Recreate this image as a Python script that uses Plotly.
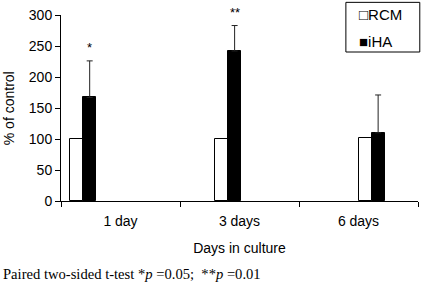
import plotly.graph_objects as go

categories = ["1 day", "3 days", "6 days"]
rcm = [100, 100, 101]
iha = [167, 242, 110]
iha_err = [59, 41, 61]
sig_labels = ["*", "**", ""]
y_ticks = [0, 50, 100, 150, 200, 250, 300]
legend_labels = ["\u25a1RCM", "\u25a0iHA"]

FONT = "Liberation Sans, Arial, sans-serif"
bar_w = 0.11
rcm_off = [-0.424, -0.206, 0.0]
iha_off = [o + bar_w for o in rcm_off]

fig = go.Figure()
fig.add_trace(go.Bar(
    x=categories, y=rcm, name="RCM", showlegend=False,
    width=[bar_w] * 3, offset=rcm_off,
    marker=dict(color="white", line=dict(color="black", width=1)),
))
fig.add_trace(go.Bar(
    x=categories, y=iha, name="iHA", showlegend=False,
    width=[bar_w] * 3, offset=iha_off,
    marker=dict(color="black", line=dict(color="black", width=1)),
    error_y=dict(type="data", array=iha_err, arrayminus=[0] * 3, symmetric=False,
                 color="#222", thickness=1, width=3),
))

for i, lab in enumerate(sig_labels):
    if lab:
        fig.add_annotation(x=i + iha_off[i] + bar_w / 2, y=iha[i] + iha_err[i], text=lab,
                           showarrow=False, xref="x", yref="y", yanchor="middle", yshift=13,
                           font=dict(family=FONT, size=13, color="black"))

# legend box
fig.add_shape(type="rect", xref="paper", yref="paper", x0=0.798, x1=1.005, y0=0.801, y1=1.068,
              line=dict(color="black", width=1), fillcolor="white", layer="above")
for lab, ly in zip(legend_labels, [1.003, 0.858]):
    fig.add_annotation(xref="paper", yref="paper", x=0.830, y=ly, xanchor="left", yanchor="middle",
                       text=lab, showarrow=False, font=dict(family=FONT, size=15, color="black"))

# y-axis title
fig.add_annotation(xref="paper", yref="paper", x=-0.145, y=0.5, xanchor="center", yanchor="middle",
                   text="% of control", textangle=-90, showarrow=False,
                   font=dict(family=FONT, size=14, color="black"))

fig.add_annotation(
    xref="paper", yref="paper", x=-0.168, y=-0.39, xanchor="left", yanchor="middle",
    text="Paired two-sided t-test *<i>p</i> =0.05;  **<i>p</i> =0.01", showarrow=False,
    font=dict(family="Liberation Serif, Times New Roman, serif", size=14.6, color="black"),
)

fig.update_layout(
    width=421, height=283,
    margin=dict(l=61, r=3, t=15, b=82, autoexpand=False),
    paper_bgcolor="white", plot_bgcolor="white",
    font=dict(family=FONT, size=14, color="black"),
    showlegend=False,
    bargap=0,
    xaxis=dict(
        type="category", range=[-0.5, 2.5], tickson="boundaries",
        showline=True, linecolor="black", linewidth=1,
        ticks="outside", ticklen=5, tickcolor="black",
        showgrid=False, zeroline=False, automargin=False,
        ticklabelstandoff=7,
        title=dict(text="Days in culture", standoff=15, font=dict(size=14)),
        tickfont=dict(size=14),
    ),
    yaxis=dict(
        range=[0, 300], tickvals=y_ticks,
        showline=True, linecolor="black", linewidth=1,
        ticks="outside", ticklen=5, tickcolor="black",
        showgrid=False, zeroline=False, automargin=False,
        tickfont=dict(size=14),
    ),
)

fig.write_html("out.html", config={"displayModeBar": False},
               post_script="document.body.style.margin='0';")
